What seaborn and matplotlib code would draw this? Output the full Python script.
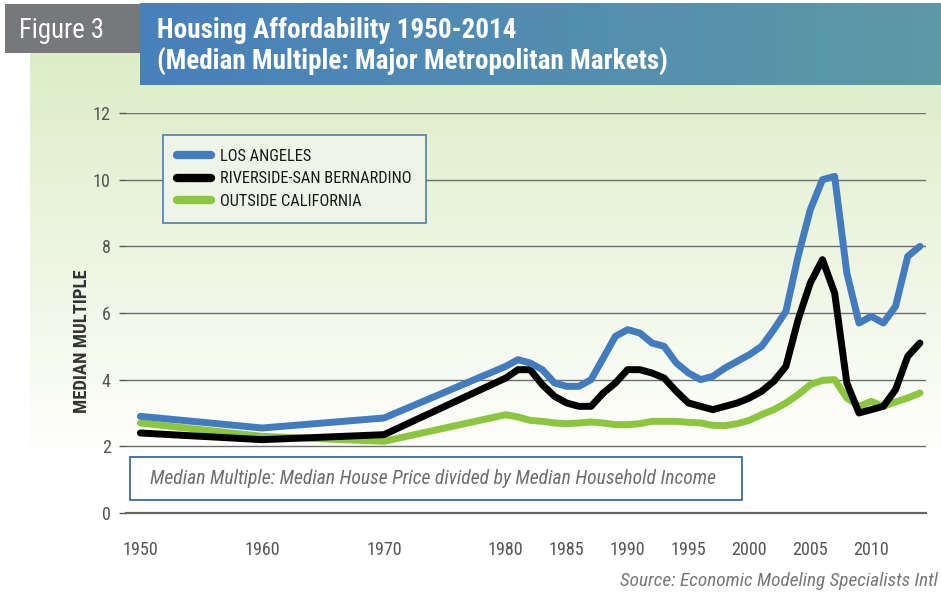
import numpy as np
import pandas as pd
import matplotlib
matplotlib.use("Agg")
import matplotlib.pyplot as plt
import seaborn as sns
from matplotlib.patches import Rectangle
from matplotlib.lines import Line2D
from matplotlib import font_manager as fm

# ---------------- data ----------------
years = [1950, 1960, 1970,
         1980, 1981, 1982, 1983, 1984, 1985, 1986, 1987, 1988, 1989,
         1990, 1991, 1992, 1993, 1994, 1995, 1996, 1997, 1998, 1999,
         2000, 2001, 2002, 2003, 2004, 2005, 2006, 2007, 2008, 2009,
         2010, 2011, 2012, 2013, 2014]
los_angeles = [2.9, 2.55, 2.85,
               4.4, 4.6, 4.5, 4.3, 3.9, 3.8, 3.8, 4.0, 4.65, 5.3,
               5.5, 5.4, 5.1, 5.0, 4.5, 4.2, 4.0, 4.1, 4.35, 4.55,
               4.75, 5.0, 5.5, 6.05, 7.7, 9.1, 10.0, 10.1, 7.2, 5.7,
               5.9, 5.7, 6.2, 7.7, 8.0]
riverside = [2.4, 2.2, 2.35,
             4.05, 4.3, 4.3, 3.85, 3.5, 3.3, 3.2, 3.2, 3.6, 3.9,
             4.3, 4.3, 4.2, 4.05, 3.65, 3.3, 3.2, 3.1, 3.2, 3.3,
             3.45, 3.65, 3.95, 4.4, 5.8, 6.9, 7.6, 6.6, 3.9, 3.0,
             3.1, 3.2, 3.7, 4.7, 5.1]
outside_ca = [2.7, 2.3, 2.15,
              2.95, 2.88, 2.78, 2.75, 2.7, 2.68, 2.7, 2.73, 2.7, 2.65,
              2.65, 2.68, 2.75, 2.75, 2.75, 2.72, 2.7, 2.63, 2.62, 2.68,
              2.78, 2.95, 3.1, 3.3, 3.55, 3.85, 3.98, 4.0, 3.45, 3.2,
              3.35, 3.2, 3.33, 3.45, 3.6]
series_names = ["LOS ANGELES", "RIVERSIDE-SAN BERNARDINO", "OUTSIDE CALIFORNIA"]
x_tick_labels = [1950, 1960, 1970, 1980, 1985, 1990, 1995, 2000, 2005, 2010]
y_ticks = [0, 2, 4, 6, 8, 10, 12]

df = pd.DataFrame({
    "year": years * 3,
    "value": los_angeles + riverside + outside_ca,
    "series": [series_names[0]] * len(years) + [series_names[1]] * len(years)
              + [series_names[2]] * len(years),
})

colors = {series_names[0]: "#427cbe", series_names[1]: "#000000",
          series_names[2]: "#8cc63e"}

# ---------------- fonts ----------------
ttf = fm.fontManager.ttflist
names = {f.name for f in ttf}
STRETCH = "normal"
COND = None
for cand in ["Liberation Sans Narrow", "Roboto Condensed", "Open Sans Condensed",
             "Noto Sans Condensed", "DejaVu Sans Condensed"]:
    if cand in names:
        COND = cand
        break
if COND is None:
    if any(f.name == "DejaVu Sans" and "ondensed" in f.fname for f in ttf):
        COND = "DejaVu Sans"
        STRETCH = "condensed"
    elif "Roboto" in names:
        COND = "Roboto"
    else:
        COND = "DejaVu Sans"

sns.set_theme(style="white")
plt.rcParams["font.family"] = [COND, "DejaVu Sans"]
plt.rcParams["font.stretch"] = STRETCH

W, H = 941, 592
fig = plt.figure(figsize=(W / 100, H / 100), dpi=100)
fig.patch.set_facecolor("white")
renderer = fig.canvas.get_renderer()


def fit(txt, target_px):
    w = txt.get_window_extent(renderer).width
    if w > 0:
        txt.set_fontsize(txt.get_fontsize() * target_px / w)
    return txt.get_fontsize()


# ---------------- background / header ----------------
bg = fig.add_axes([0, 0, 1, 1], zorder=0)
bg.set_xlim(0, W)
bg.set_ylim(H, 0)
bg.axis("off")
top = np.array([220, 237, 198]) / 255
bot = np.array([254, 254, 252]) / 255
t = np.linspace(0, 1, 256)[:, None]
grad = (top[None, :] * (1 - t) + bot[None, :] * t)[:, None, :]
bg.imshow(grad, extent=[30, W, 450, 50], aspect="auto", zorder=0)
lft = np.array([72, 128, 186]) / 255
rgt = np.array([92, 154, 166]) / 255
s = np.linspace(0, 1, 256)[:, None]
band = (lft[None, :] * (1 - s) + rgt[None, :] * s)[None, :, :]
bg.imshow(band, extent=[140, W, 85, 3], aspect="auto", zorder=1)
bg.add_patch(Rectangle((5, 4), 135, 49, facecolor="#77787c", edgecolor="none", zorder=2))
t_fig = bg.text(62, 30, "Figure 3", color="white", fontsize=17,
                ha="center", va="center", zorder=3)
fit(t_fig, 85)
t1 = bg.text(157, 31, "Housing Affordability 1950-2014", color="white", fontsize=17,
             fontweight="bold", ha="left", va="center", zorder=3)
t2 = bg.text(157, 62, "(Median Multiple: Major Metropolitan Markets)", color="white",
             fontsize=17, fontweight="bold", ha="left", va="center", zorder=3)
fit(t2, 512)
t1.set_fontsize(t2.get_fontsize())

# ---------------- main axes ----------------
ax = fig.add_axes([126 / W, (H - 513) / H, 800 / W, 400 / H], zorder=2)
ax.set_facecolor("none")

for name, z in [(series_names[2], 3), (series_names[1], 4), (series_names[0], 5)]:
    sub = df[df["series"] == name]
    sns.lineplot(data=sub, x="year", y="value", ax=ax, color=colors[name],
                 linewidth=5, legend=False, zorder=z)

probe = fig.text(0, 0, "1950", fontsize=14)
tick_fs = fit(probe, 36)
probe.remove()

ax.set_xlim(1948.82, 2014.5)
ax.set_ylim(0, 12)
ax.set_yticks(y_ticks)
ax.set_yticklabels([str(v) for v in y_ticks])
ax.set_xticks(x_tick_labels)
ax.set_xticklabels([str(v) for v in x_tick_labels])
ax.set_xticks(np.arange(1949.5, 2015, 1.0), minor=True)
ax.tick_params(axis="x", which="major", length=0, pad=20, labelsize=tick_fs,
               labelcolor="#555555")
ax.tick_params(axis="x", which="minor", length=5, width=1, color="#555555", direction="out")
ax.tick_params(axis="y", which="major", length=5, width=1, color="#555555", pad=6,
               labelsize=tick_fs, labelcolor="#555555", direction="out", left=True)
ax.set_xlabel("")
ax.set_ylabel("")
for side in ["left", "right", "top"]:
    ax.spines[side].set_visible(False)
ax.spines["bottom"].set_color("#666666")
ax.spines["bottom"].set_linewidth(1.6)
for v in y_ticks[1:]:
    ax.axhline(v, color="#6d6d6d", linewidth=1.0, zorder=1)

ylab = fig.text(82 / W, (H - 341) / H, "MEDIAN MULTIPLE", fontsize=12,
                fontweight="bold", color="#333333", ha="center", va="center")
fit(ylab, 143)
ylab.set_rotation(90)

# legend
probe = fig.text(0, 0, series_names[1], fontsize=12)
leg_fs = fit(probe, 191)
probe.remove()
handles = [Line2D([0], [0], color=colors[n], linewidth=6, solid_capstyle="round")
           for n in series_names]
leg = ax.legend(handles, series_names, loc="upper left",
                bbox_to_anchor=((163 - 126) / 800, (513 - 135) / 400),
                borderaxespad=0, frameon=True, fontsize=leg_fs, handlelength=2.1,
                handletextpad=0.55, labelspacing=0.45, borderpad=0.85, fancybox=False)
leg.get_frame().set_edgecolor("#4a7fb5")
leg.get_frame().set_linewidth(1.2)
leg.get_frame().set_facecolor("#eef5e7")
leg.get_frame().set_alpha(1)
leg.set_zorder(10)
for txt in leg.get_texts():
    txt.set_color("#1a1a1a")

# note box
fig.patches.append(Rectangle((130 / W, (H - 500) / H), 612 / W, 43 / H,
                             transform=fig.transFigure, facecolor="white",
                             edgecolor="#2e5f9a", linewidth=1.2, zorder=5))
note = fig.text(433 / W, (H - 479) / H,
                "Median Multiple: Median House Price divided by Median Household Income",
                fontsize=13, style="italic", color="#6e6e6e", ha="center", va="center",
                zorder=6)
fit(note, 566)

src = fig.text(938 / W, (H - 581) / H, "Source: Economic Modeling Specialists Intl",
               fontsize=13, style="italic", color="#777777", ha="right", va="center")
fit(src, 318)

fig.savefig("out.png", dpi=100)
